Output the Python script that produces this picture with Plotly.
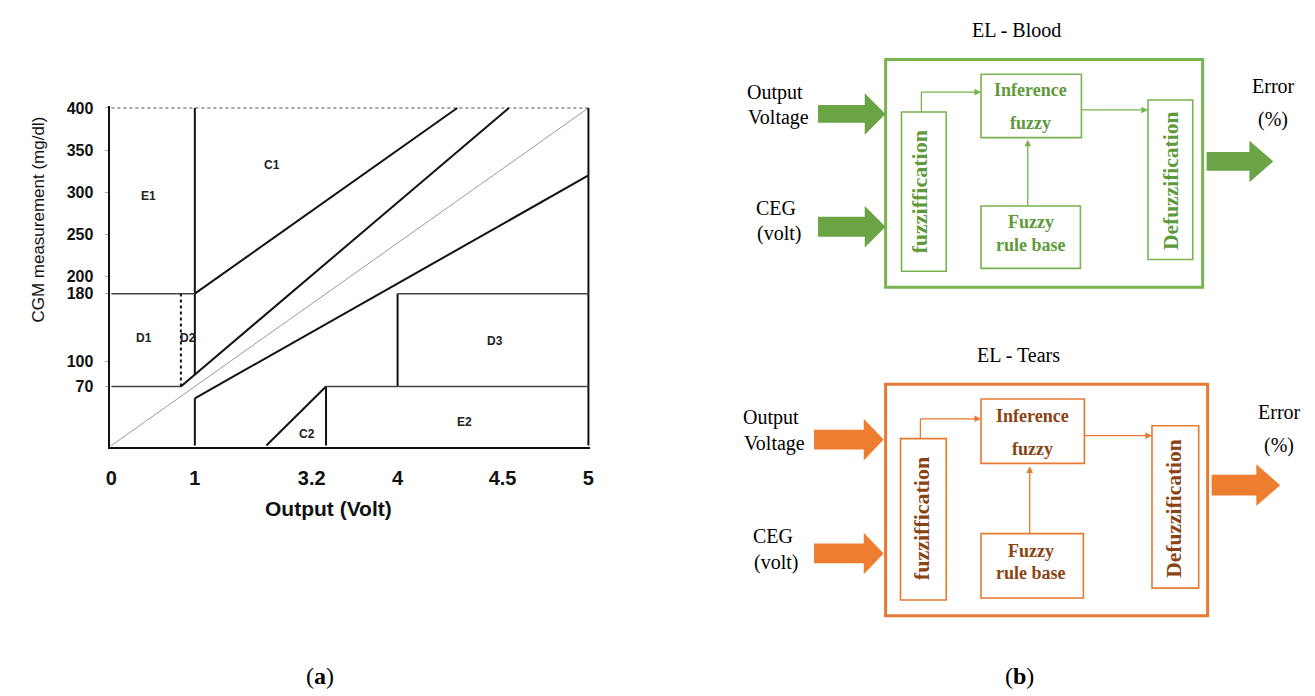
import plotly.graph_objects as go

W, H = 1315, 696

# ---------------- Chart (a) data ----------------
x_tick_vals = [0, 70, 168, 240, 328, 400]
x_tick_text = ["0", "1", "3.2", "4", "4.5", "5"]
y_tick_vals = [400, 350, 300, 250, 200, 180, 100, 70]
y_tick_text = ["400", "350", "300", "250", "200", "180", "100", "70"]

diag_x = [0, 400];        diag_y = [0, 400]
upperA_x = [58.3, 333.3]; upperA_y = [70, 400]
lowerA_x = [70, 400];     lowerA_y = [56, 320]
upperC_x = [70, 290];     upperC_y = [180, 400]
lowerC_x = [130, 180];    lowerC_y = [0, 70]
v70_top_x = [70, 70];     v70_top_y = [400, 84]
v70_bot_x = [70, 70];     v70_bot_y = [56, 0]
v180_x = [180, 180];      v180_y = [0, 70]
v240_x = [240, 240];      v240_y = [70, 180]
right_x = [400, 400];     right_y = [0, 400]
h180_left_x = [0, 70];    h180_left_y = [180, 180]
h180_right_x = [240, 400]; h180_right_y = [180, 180]
h70_left_x = [0, 58.3];   h70_left_y = [70, 70]
h70_right_x = [180, 400]; h70_right_y = [70, 70]
dashD2_x = [58.3, 58.3];  dashD2_y = [70, 180]
top_x = [0, 400];         top_y = [400, 400]

zone_names = ["E1", "C1", "D1", "D2", "D3", "C2", "E2"]
zone_x = [31, 135, 27, 64, 322, 164, 296]
zone_y = [296, 333, 127, 127, 124, 14, 28]

fig = go.Figure()

def seg(xs, ys, color="#111", width=2, dash="solid"):
    fig.add_trace(go.Scatter(x=xs, y=ys, mode="lines", showlegend=False,
                             hoverinfo="skip",
                             line=dict(color=color, width=width, dash=dash)))

seg(diag_x, diag_y, color="#9a9a9a", width=1)
seg(top_x, top_y, color="#888", width=1.5, dash="dot")
for xs, ys in [(upperA_x, upperA_y), (lowerA_x, lowerA_y), (upperC_x, upperC_y),
               (lowerC_x, lowerC_y), (v70_top_x, v70_top_y), (v70_bot_x, v70_bot_y),
               (v180_x, v180_y), (v240_x, v240_y), (right_x, right_y)]:
    seg(xs, ys, color="#111", width=2)
for xs, ys in [(h180_left_x, h180_left_y), (h180_right_x, h180_right_y),
               (h70_left_x, h70_left_y), (h70_right_x, h70_right_y)]:
    seg(xs, ys, color="#444", width=1.5)
seg(dashD2_x, dashD2_y, color="#111", width=2, dash="dot")

sans = "Liberation Sans, Arial, sans-serif"
serif = "Liberation Serif, Times New Roman, serif"

annotations = []
for n, zx, zy in zip(zone_names, zone_x, zone_y):
    annotations.append(dict(x=zx, y=zy, xref="x", yref="y", text=n, showarrow=False,
                            font=dict(family=sans, size=12, color="#222", weight="bold")))

def P(x, y):
    return x / W, 1 - y / H

def txt(x, y, s, size=20, color="black", bold=False, angle=0, family=serif):
    px_, py_ = P(x, y)
    annotations.append(dict(x=px_, y=py_, xref="paper", yref="paper", text=s,
                            showarrow=False, textangle=angle,
                            xanchor="center", yanchor="middle",
                            font=dict(family=family, size=size, color=color,
                                      weight="bold" if bold else "normal")))

# axis titles
txt(35, 215, "CGM measurement (mg/dl)", size=17, angle=-90, family=sans, color="#111")
txt(326, 507, "Output (Volt)", size=21, bold=True, family=sans, color="#111")
# panel letters
txt(318, 676, "(<b>a</b>)", size=24)
txt(1022, 676, "(<b>b</b>)", size=24)

# ---------------- Diagram (b) ----------------
shapes = []

def rect(x0, y0, x1, y1, color, width):
    a0, b0 = P(x0, y0); a1, b1 = P(x1, y1)
    shapes.append(dict(type="rect", xref="paper", yref="paper", x0=a0, y0=b1, x1=a1, y1=b0,
                       line=dict(color=color, width=width), fillcolor="rgba(0,0,0,0)"))

def line(x0, y0, x1, y1, color, width=1.3):
    a0, b0 = P(x0, y0); a1, b1 = P(x1, y1)
    shapes.append(dict(type="line", xref="paper", yref="paper", x0=a0, y0=b0, x1=a1, y1=b1,
                       line=dict(color=color, width=width)))

def block_arrow(x0, x1, x2, yc, sh, hh, color):
    pts = [(x0, yc - sh), (x1, yc - sh), (x1, yc - hh), (x2, yc),
           (x1, yc + hh), (x1, yc + sh), (x0, yc + sh)]
    path = "M " + " L ".join("%.5f,%.5f" % P(px_, py_) for px_, py_ in pts) + " Z"
    shapes.append(dict(type="path", xref="paper", yref="paper", path=path,
                       fillcolor=color, line=dict(color=color, width=0)))

def thin_arrow(xt, yt, xh, yh, color):
    hx, hy = P(xh, yh)
    annotations.append(dict(x=hx, y=hy, xref="paper", yref="paper", text="",
                            showarrow=True, ax=xt - xh, ay=yt - yh,
                            arrowhead=2, arrowsize=1.1, arrowwidth=1.2,
                            arrowcolor=color, standoff=0, startstandoff=0))

def panel(g, title, line_c, arrow_c, text_c):
    txt(g["title"][0], g["title"][1], title, size=20)
    rect(*g["outer"], line_c, 3)
    rect(*g["fuzz"], line_c, 1.6)
    rect(*g["inf"], line_c, 1.6)
    rect(*g["rule"], line_c, 1.6)
    rect(*g["defuzz"], line_c, 1.6)
    fx, fy0, fy1, fxe = g["a_fuzz"]
    line(fx, fy0, fx, fy1, line_c)
    line(fx, fy1, fxe - 3, fy1, line_c)
    thin_arrow(fxe - 8, fy1, fxe, fy1, line_c)
    ay_, ax0, ax1 = g["a_inf"]
    line(ax0, ay_, ax1 - 3, ay_, line_c)
    thin_arrow(ax1 - 8, ay_, ax1, ay_, line_c)
    rx, ry0, ry1 = g["a_rule"]
    line(rx, ry0, rx, ry1 + 3, line_c)
    thin_arrow(rx, ry1 + 8, rx, ry1, line_c)
    for a in g["in_arrows"]:
        block_arrow(*a, arrow_c)
    block_arrow(*g["out_arrow"], arrow_c)
    for (x, y, s) in g["labels"]:
        txt(x, y, s, size=20)
    for (x, y, s, ang, sz) in g["box_txt"]:
        txt(x, y, s, size=sz, color=text_c, bold=True, angle=ang)

top = dict(
    title=(1019, 23),
    outer=(887, 53, 1206, 283),
    fuzz=(903, 106, 948, 267),
    inf=(983, 68, 1084, 132),
    rule=(983, 201, 1083, 264),
    defuzz=(1151, 94, 1196, 255),
    a_fuzz=(923, 106, 86, 983),
    a_inf=(104, 1084, 1151),
    a_rule=(1030, 201, 134),
    in_arrows=[(819, 866, 887, 108, 9, 21), (819, 866, 887, 222, 10, 21)],
    out_arrow=(1210, 1253, 1277, 156, 9.5, 21),
    labels=[(776, 86, "Output"), (779, 112, "Voltage"), (777, 203, "CEG"),
            (780, 229, "(volt)"), (1277, 80, "Error"), (1277, 114, "(%)")],
    box_txt=[(1033, 84, "Inference", 0, 18), (1033, 117, "fuzzy", 0, 18),
             (1033, 217, "Fuzzy", 0, 18), (1033, 240, "rule base", 0, 18),
             (921, 187, "fuzziffication", -90, 22), (1174, 175, "Defuzzification", -90, 21.5)],
)

bottom = dict(
    title=(1021, 352),
    outer=(887, 381, 1211, 615),
    fuzz=(902, 436, 948, 599),
    inf=(983, 396, 1087, 461),
    rule=(983, 532, 1086, 597),
    defuzz=(1155, 423, 1202, 587),
    a_fuzz=(922, 436, 416, 983),
    a_inf=(433, 1087, 1155),
    a_rule=(1032, 532, 464),
    in_arrows=[(815, 865, 885, 437, 10, 21), (815, 865, 885, 552, 10, 21)],
    out_arrow=(1215, 1260, 1284, 483, 10.5, 21),
    labels=[(772, 415, "Output"), (775, 441, "Voltage"), (774, 534, "CEG"),
            (777, 561, "(volt)"), (1283, 409, "Error"), (1283, 443, "(%)")],
    box_txt=[(1035, 413, "Inference", 0, 18), (1035, 446, "fuzzy", 0, 18),
             (1033, 550, "Fuzzy", 0, 18), (1033, 572, "rule base", 0, 18),
             (923, 517, "fuzziffication", -90, 22), (1177, 506, "Defuzzification", -90, 21.5)],
)

panel(top, "EL - Blood", "#78B350", "#6AA444", "#5E9A3A")
panel(bottom, "EL - Tears", "#E57A33", "#EE7D30", "#8A4414")

xd0 = (108 - 1.8) / W
xd1 = (588 + 1.8) / W
yd0 = 1 - (443 + 1.7) / H
yd1 = 1 - (102 - 1.7) / H

fig.update_layout(
    width=W, height=H,
    margin=dict(l=0, r=0, t=0, b=0),
    paper_bgcolor="white", plot_bgcolor="white",
    showlegend=False,
    xaxis=dict(domain=[xd0, xd1], range=[-1.5, 401.5], showgrid=False, zeroline=False,
               showline=True, linecolor="#111", linewidth=2,
               tickmode="array", tickvals=x_tick_vals, ticktext=x_tick_text,
               ticks="", ticklabelstandoff=12,
               tickfont=dict(family=sans, size=20, color="#111", weight="bold")),
    yaxis=dict(domain=[yd0, yd1], range=[-2, 402], showgrid=False, zeroline=False,
               showline=True, linecolor="#111", linewidth=2,
               tickmode="array", tickvals=y_tick_vals, ticktext=y_tick_text,
               ticks="outside", ticklen=3, tickcolor="#aaa", ticklabelstandoff=8,
               tickfont=dict(family=sans, size=16, color="#111", weight="bold")),
    annotations=annotations,
    shapes=shapes,
)

fig.write_html("out.html", config={"displayModeBar": False},
               post_script="document.body.style.margin='0';document.body.style.overflow='hidden';")
